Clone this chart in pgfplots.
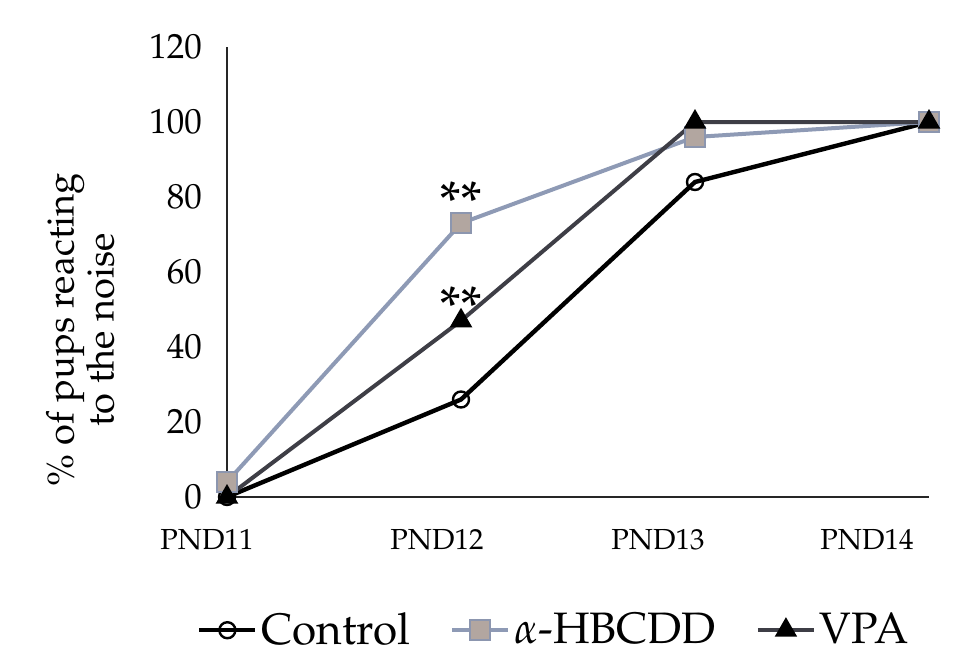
\documentclass[border=0pt]{standalone}
\usepackage[T1]{fontenc}
\usepackage{mathpazo}
\usepackage{pgfplots}
\pgfplotsset{compat=1.18}

\definecolor{hbline}{RGB}{142,154,181}
\definecolor{hbfill}{RGB}{178,166,160}
\definecolor{hbdraw}{RGB}{140,150,175}
\definecolor{vpaline}{RGB}{62,62,70}

\begin{document}
\begin{tikzpicture}
\useasboundingbox (-113.5pt,-79pt) rectangle (366pt,248.5pt);
\begin{axis}[
    scale only axis,
    width=351pt, height=225pt,
    xmin=0, xmax=3,
    ymin=0, ymax=120,
    axis x line=bottom, axis y line=left,
    axis line style={-, line width=0.9pt, black!85},
    xtick={0,1,2,3},
    % labels sit a little left of the data points, as in the original
    xticklabels={\hspace{-20pt}PND11,\hspace{-24pt}PND12,\hspace{-37pt}PND13,\hspace{-62pt}PND14},
    ytick={0,20,...,120},
    major tick length=0pt,
    xticklabel style={font=\fontsize{14.5}{16}\selectfont, yshift=-12.5pt},
    yticklabel style={font=\fontsize{17.5}{19}\selectfont, xshift=-9pt},
    ylabel={\% of pups reacting\\to the noise},
    ylabel style={font=\fontsize{19}{20}\selectfont, align=center,
        at={(axis description cs:-0.209,0.371)}, anchor=center},
    clip=false,
    legend columns=3,
    legend style={draw=none, fill=none, font=\fontsize{22}{24}\selectfont,
        at={(axis description cs:0.467,-0.296)}, anchor=center,
        /tikz/every even column/.append style={column sep=18pt}},
    legend image code/.code={
        \draw[#1, mark=none] (0pt,0pt) -- (28pt,0pt);
        \draw[#1, only marks] plot coordinates {(14pt,0pt)};
    },
]
\addplot[black, line width=2.2pt, mark=o, mark size=4pt,
    mark options={fill=white, line width=1.2pt}]
    coordinates {(0,0) (1,26) (2,84) (3,100)};
\addlegendentry{Control}
\addplot[hbline, line width=2pt, mark=square*, mark size=5pt,
    mark options={fill=hbfill, draw=hbdraw, line width=0.8pt}]
    coordinates {(0,4) (1,73) (2,96) (3,100)};
\addlegendentry{$\alpha$-HBCDD}
\addplot[vpaline, line width=2pt, mark=triangle*, mark size=4.5pt,
    mark options={fill=black, draw=black}]
    coordinates {(0,0) (1,47) (2,100) (3,100)};
\addlegendentry{VPA}
\node[font=\fontsize{28}{28}\selectfont] at (axis cs:1,79) {**};
\node[font=\fontsize{28}{28}\selectfont] at (axis cs:1,51) {**};
\end{axis}
\end{tikzpicture}
\end{document}
